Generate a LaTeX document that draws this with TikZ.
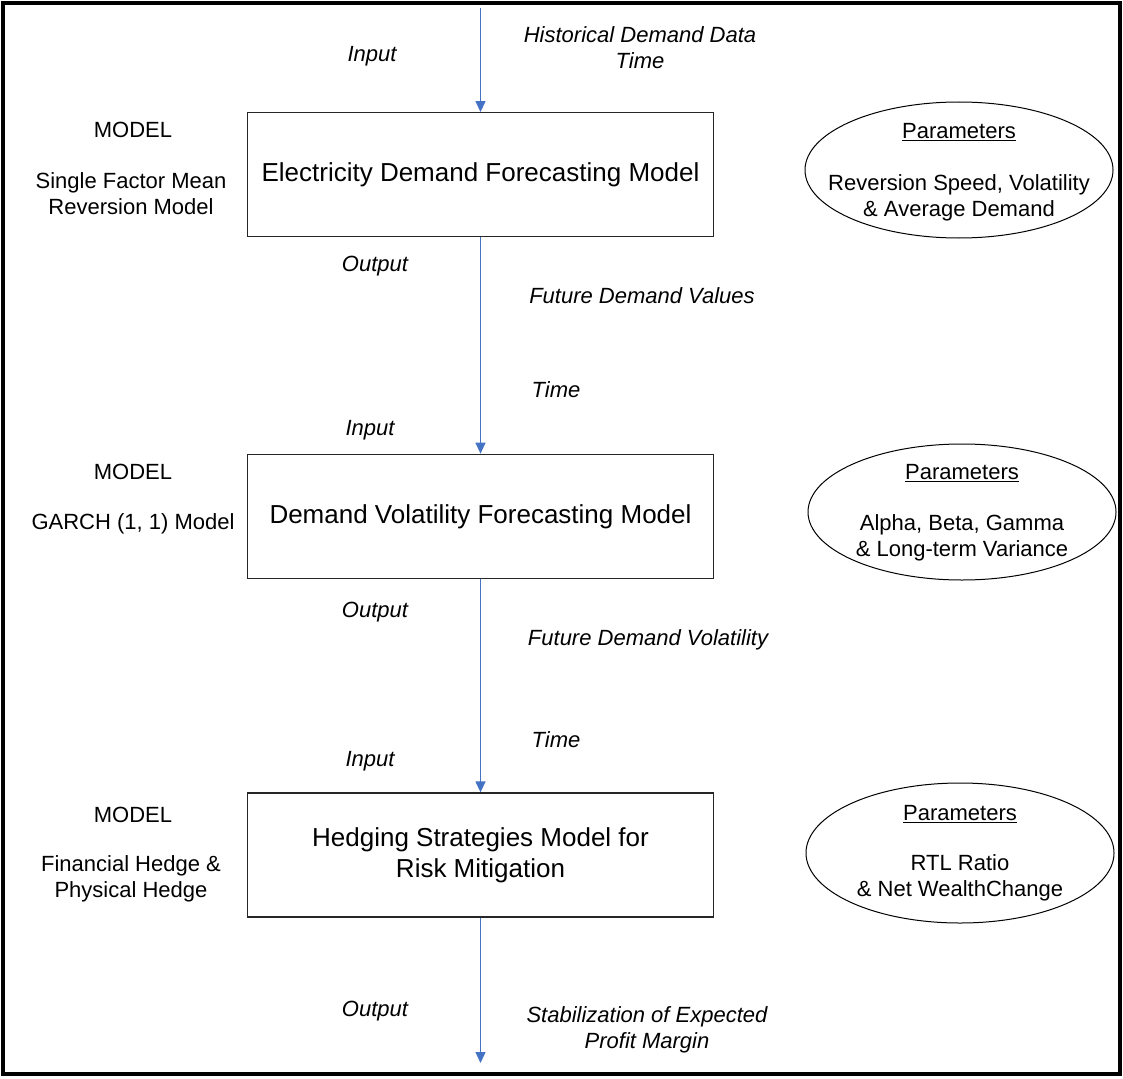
\documentclass[tikz,border=0pt]{standalone}
\usepackage{fontspec}
\setmainfont{Liberation Sans}
\usetikzlibrary{arrows.meta,shapes.geometric}
\definecolor{arrowblue}{HTML}{4472C4}
\begin{document}
\begin{tikzpicture}[x=1pt,y=-1pt,
  modelbox/.style={draw=black!85, line width=1.3pt, minimum width=466pt, minimum height=124pt, inner sep=0pt, align=center, font=\fontsize{26}{31}\selectfont},
  smalltext/.style={inner sep=0pt, align=center, yshift=-2pt, font=\fontsize{22}{26}\selectfont},
  italtext/.style={inner sep=0pt, align=center, yshift=-2pt, font=\fontsize{22}{26}\selectfont\itshape},
  param/.style={draw, ellipse, line width=1pt, minimum width=308pt, minimum height=136pt, inner sep=0pt},
  flow/.style={draw=arrowblue, line width=1.3pt, -{Triangle[width=10pt,length=11pt]}}
]
\useasboundingbox (0,0) rectangle (1123,1078);
\draw[line width=3.5pt] (3,3) rectangle (1120,1074);

% boxes
\node[modelbox] (b1) at (480.5,174.7) {Electricity Demand Forecasting Model};
\node[modelbox] (b2) at (480.5,516.3) {Demand Volatility Forecasting Model};
\node[modelbox] (b3) at (480.5,855) {Hedging Strategies Model for\\Risk Mitigation};

% ellipses
\node[param] (e1) at (959,170) {};
\node[param] (e2) at (962,512) {};
\node[param, minimum height=140pt] (e3) at (960,853) {};
\node[smalltext] (p1) at (e1.center) {\underline{Parameters}\\[26pt]Reversion Speed, Volatility\\\& Average Demand};
\node[smalltext] (p2) at ([yshift=1.5pt]e2.center) {\underline{Parameters}\\[25pt]Alpha, Beta, Gamma\\\& Long-term Variance};
\node[smalltext] (p3) at ([yshift=1.5pt]e3.center) {\underline{Parameters}\\[24pt]RTL Ratio\\\& Net WealthChange};

% left labels
\node[smalltext] (m1) at (133,128) {MODEL};
\node[smalltext] (d1) at (131,192) {Single Factor Mean\\Reversion Model};
\node[smalltext] (m2) at (133,470) {MODEL};
\node[smalltext] (d2) at (133,522) {GARCH (1, 1) Model};
\node[smalltext] (m3) at (133,813) {MODEL};
\node[smalltext] (d3) at (131,877) {Financial Hedge \&\\Physical Hedge};

% flow labels
\node[italtext] (i1) at (372,54) {Input};
\node[italtext] (h1) at (640,46) {Historical Demand Data\\Time};
\node[italtext] (o1) at (375,264) {Output};
\node[italtext] (f1) at (642,294) {Future Demand Values};
\node[italtext] (t2) at (556,388) {Time};
\node[italtext] (i2) at (370,428) {Input};
\node[italtext] (o2) at (375,610) {Output};
\node[italtext] (f2) at (648,638) {Future Demand Volatility};
\node[italtext] (t3) at (556,738) {Time};
\node[italtext] (i3) at (370,759) {Input};
\node[italtext] (o3) at (375,1009) {Output};
\node[italtext] (f3) at (647,1028) {Stabilization of Expected\\Profit Margin};

% arrows
\coordinate (s0) at (480.5,8);
\coordinate (s4) at (480.5,1063);
\draw[flow] (s0) -- (b1.north);
\draw[flow] (b1.south) -- (b2.north);
\draw[flow] (b2.south) -- (b3.north);
\draw[flow] (b3.south) -- (s4);
\end{tikzpicture}
\end{document}
